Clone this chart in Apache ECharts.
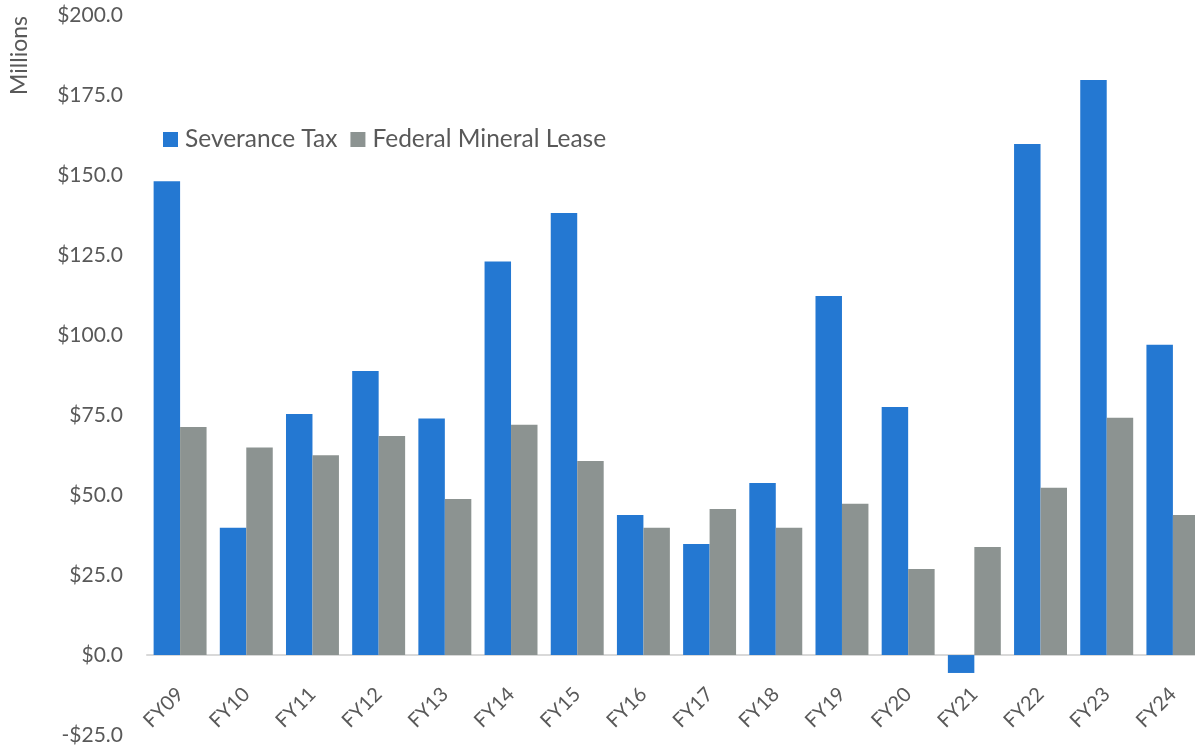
<!DOCTYPE html>
<html>
<head>
<meta charset="utf-8">
<script src="https://cdn.jsdelivr.net/npm/echarts@6/dist/echarts.min.js"></script>
<style>
  html, body { margin: 0; padding: 0; background: #ffffff; }
  #chart { width: 1195px; height: 750px; }
</style>
</head>
<body>
<div id="chart"></div>
<script>
// Fiscal years on the category axis
const years = ['FY09','FY10','FY11','FY12','FY13','FY14','FY15','FY16','FY17','FY18','FY19','FY20','FY21','FY22','FY23','FY24'];
// Revenue in millions of dollars
const severanceTax = [148.2, 39.8, 75.4, 88.8, 74.0, 123.1, 138.2, 43.8, 34.7, 53.8, 112.3, 77.6, -5.6, 159.8, 179.8, 97.0];
const federalMineralLease = [71.3, 64.9, 62.5, 68.5, 48.8, 72.0, 60.7, 39.8, 45.7, 39.8, 47.3, 26.9, 33.8, 52.3, 74.2, 43.8];
const seriesNames = ['Severance Tax', 'Federal Mineral Lease'];
const unitLabel = 'Millions';

const textColor = '#595959';
const fontFamily = 'Lato, "Open Sans", sans-serif';

const chart = echarts.init(document.getElementById('chart'), null, { renderer: 'canvas' });
chart.setOption({
  animation: false,
  textStyle: { fontFamily: fontFamily, color: textColor },
  grid: { left: 147, right: -11, top: 15.5, bottom: 15, containLabel: false, outerBoundsMode: 'none' },
  legend: {
    left: 158, top: 122,
    itemWidth: 15, itemHeight: 15, itemGap: 13,
    icon: 'rect',
    textStyle: { fontSize: 24.5, color: textColor, fontFamily: fontFamily, padding: [0, 0, 0, 2] },
    data: seriesNames
  },
  graphic: [{
    type: 'text',
    left: 8, top: 16,
    rotation: Math.PI / 2,
    style: { text: unitLabel, fill: textColor, font: '23px ' + fontFamily }
  }],
  xAxis: {
    type: 'category',
    data: years,
    offset: -80,
    axisLine: { onZero: false, lineStyle: { color: '#d9d9d9', width: 2 } },
    axisTick: { show: false },
    axisLabel: { rotate: 45, fontSize: 20, color: textColor, margin: 36, fontFamily: fontFamily }
  },
  yAxis: {
    type: 'value',
    min: -25, max: 200, interval: 25,
    axisLine: { show: false },
    axisTick: { show: false },
    splitLine: { show: false },
    axisLabel: {
      fontSize: 21, color: textColor, margin: 24, fontFamily: fontFamily,
      formatter: v => (v < 0 ? '-$' : '$') + Math.abs(v).toFixed(1)
    }
  },
  series: [
    {
      name: seriesNames[0], type: 'bar', data: severanceTax,
      barGap: '0%', barCategoryGap: '20%',
      itemStyle: { color: '#2478D2' }
    },
    {
      name: seriesNames[1], type: 'bar', data: federalMineralLease,
      itemStyle: { color: '#8C9391' }
    }
  ]
});
</script>
</body>
</html>
